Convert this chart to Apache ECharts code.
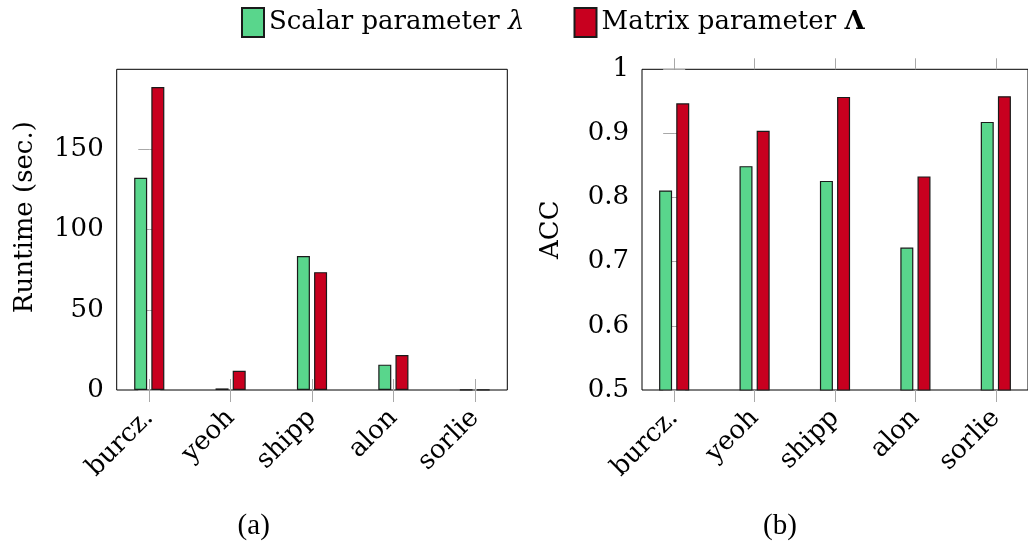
<!DOCTYPE html>
<html>
<head>
<meta charset="utf-8">
<script src="https://cdn.jsdelivr.net/npm/echarts@6/dist/echarts.min.js"></script>
<style>html,body{margin:0;padding:0;background:#fff}#c{width:1028px;height:547px}</style>
</head>
<body>
<div id="c"></div>
<script>
const categories = ['burcz.', 'yeoh', 'shipp', 'alon', 'sorlie'];
const runtimeScalar = [132.4, 1.0, 83.6, 15.8, 0.2];
const runtimeMatrix = [188.9, 12.0, 73.5, 21.8, 0.2];
const accScalar = [0.811, 0.849, 0.826, 0.722, 0.918];
const accMatrix = [0.947, 0.904, 0.957, 0.833, 0.958];
const runtimeTicks = [0, 50, 100, 150];
const accTicks = [0.5, 0.6, 0.7, 0.8, 0.9, 1];
const seriesNames = ['Scalar parameter λ', 'Matrix parameter Λ'];
const captions = ['(a)', '(b)'];

const FONT = 'DejaVu Serif';
const GREEN = '#59D68C';
const RED = '#C8001F';
const TICK = '#a8a8a8';
const catIdx = categories.map((_, i) => i);

function xAxes(gi) {
  return [{
    type: 'value', gridIndex: gi, min: -0.4, max: 4.4, position: 'bottom',
    axisLine: { show: false }, splitLine: { show: false },
    axisTick: { show: true, inside: false, length: 12, customValues: catIdx, lineStyle: { color: TICK, width: 1 } },
    axisLabel: { show: true, customValues: catIdx, rotate: 45, margin: 24,
      formatter: v => categories[Math.round(v)] || '', color: '#000', fontFamily: FONT, fontSize: 26 }
  }, {
    type: 'value', gridIndex: gi, min: -0.4, max: 4.4, position: 'top',
    axisLine: { show: false }, splitLine: { show: false },
    axisTick: { show: true, inside: false, length: 11, customValues: catIdx, lineStyle: { color: TICK, width: 1 } },
    axisLabel: { show: false }
  }];
}
function yAxes(gi, min, max, ticks, name, fmt, namePad) {
  return [{
    type: 'value', gridIndex: gi, min: min, max: max, position: 'left',
    name: name, nameLocation: 'middle', nameGap: 78,
    nameTextStyle: { fontFamily: FONT, fontSize: 26, color: '#000', padding: namePad },
    axisLine: { show: false }, splitLine: { show: false },
    axisTick: { show: true, inside: true, length: 11, customValues: ticks, lineStyle: { color: TICK, width: 1 } },
    axisLabel: { show: true, customValues: ticks, margin: 13, formatter: fmt, color: '#000', fontFamily: FONT, fontSize: 26 }
  }, {
    type: 'value', gridIndex: gi, min: min, max: max, position: 'right',
    axisLine: { show: false }, splitLine: { show: false },
    axisTick: { show: true, inside: true, length: 11, customValues: ticks, lineStyle: { color: TICK, width: 1 } },
    axisLabel: { show: false }
  }];
}
function bar(name, color, vals, gi) {
  return {
    type: 'bar', name: name, xAxisIndex: gi * 2, yAxisIndex: gi * 2,
    barWidth: 13, barGap: '32%',
    itemStyle: { color: color, borderColor: '#1a1a1a', borderWidth: 1.2 },
    emphasis: { disabled: true },
    data: vals.map((v, i) => [i, v])
  };
}

const chart = echarts.init(document.getElementById('c'), null, { renderer: 'canvas' });
chart.setOption({
  animation: false,
  legend: {
    data: seriesNames, left: 236, top: 2, itemWidth: 22, itemHeight: 29, itemGap: 49,
    icon: 'rect', selectedMode: false,
    formatter: n => n === seriesNames[0] ? 'Scalar parameter {i|λ}' : 'Matrix parameter {b|Λ}',
    textStyle: { fontFamily: FONT, fontSize: 26, color: '#000',
      rich: { i: { fontFamily: FONT, fontSize: 26, fontStyle: 'italic' }, b: { fontFamily: FONT, fontSize: 26, fontWeight: 'bold' } } }
  },
  grid: [
    { left: 116.7, top: 69.3, width: 390.6, height: 320.7, show: true, borderColor: '#000', borderWidth: 1, backgroundColor: 'transparent' },
    { left: 642, top: 69.3, width: 391.3, height: 320.7, show: true, borderColor: '#000', borderWidth: 1, backgroundColor: 'transparent' }
  ],
  xAxis: [...xAxes(0), ...xAxes(1)],
  yAxis: [
    ...yAxes(0, 0, 200, runtimeTicks, 'Runtime (sec.)', v => String(v), [0, 0, 0, 25]),
    ...yAxes(1, 0.5, 1, accTicks, 'ACC', v => String(Number(v.toFixed(1))), 0)
  ],
  series: [
    bar(seriesNames[0], GREEN, runtimeScalar, 0),
    bar(seriesNames[1], RED, runtimeMatrix, 0),
    bar(seriesNames[0], GREEN, accScalar, 1),
    bar(seriesNames[1], RED, accMatrix, 1)
  ],
  graphic: [
    { type: 'text', x: 253.7, y: 526.7, style: { text: captions[0], font: '29px "Liberation Serif"', fill: '#000', align: 'center', verticalAlign: 'middle' } },
    { type: 'text', x: 780, y: 526, style: { text: captions[1], font: '29px "Liberation Serif"', fill: '#000', align: 'center', verticalAlign: 'middle' } }
  ]
});
</script>
</body>
</html>
